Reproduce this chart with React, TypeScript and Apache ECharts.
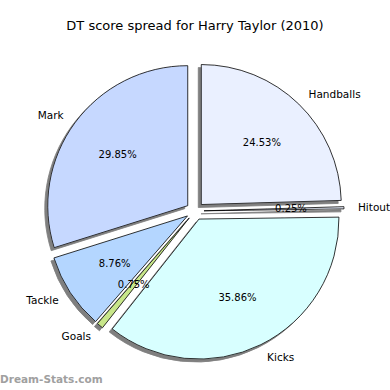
import React, { useEffect, useRef } from "react";
import * as echarts from "echarts";

const titleText = "DT score spread for Harry Taylor (2010)";
const categories = ["Handballs", "Hitout", "Kicks", "Goals", "Tackle", "Mark"];
const percents = [24.53, 0.25, 35.86, 0.75, 8.76, 29.85];
const colors = ["#eaf0ff", "#ecf2ff", "#d8ffff", "#c8e68a", "#b4d6ff", "#c6d8ff"];
const watermark = "Dream-Stats.com";

const FONT = "DejaVu Sans";

export default function App() {
  const ref = useRef<HTMLDivElement>(null);
  useEffect(() => {
    if (!ref.current) return;
    const chart = echarts.init(ref.current, null, { renderer: "svg" });
    const center = [195, 211];
    const R = 140;
    const offset = 9;
    const mainData = categories.map((name, i) => ({
      name,
      value: percents[i],
      selected: true,
      itemStyle: { color: colors[i] },
    }));
    const pctData = categories.map((name, i) => ({
      name,
      value: percents[i],
      selected: true,
    }));
    chart.setOption({
      animation: false,
      backgroundColor: "#ffffff",
      title: {
        text: titleText,
        left: "center",
        top: 14,
        textStyle: { fontFamily: FONT, fontSize: 13, fontWeight: "normal", color: "#000" },
      },
      graphic: [
        {
          type: "text",
          left: 0,
          top: 373,
          style: {
            text: watermark,
            fontFamily: FONT,
            fontSize: 10.5,
            fontWeight: "bold",
            fill: "#a0a0a0",
          },
        },
      ],
      series: [
        {
          type: "pie",
          center,
          radius: [0, R],
          startAngle: 90,
          clockwise: true,
          selectedMode: "multiple",
          selectedOffset: offset,
          avoidLabelOverlap: false,
          silent: true,
          itemStyle: {
            borderColor: "#000",
            borderWidth: 0.8,
            shadowColor: "#7f7f7f",
            shadowBlur: 0,
            shadowOffsetX: -3,
            shadowOffsetY: 3,
          },
          select: { itemStyle: { borderColor: "#000", borderWidth: 0.8 } },
          emphasis: { disabled: true },
          label: {
            show: true,
            position: "outside",
            fontFamily: FONT,
            fontSize: 10.5,
            color: "#000",
            distanceToLabelLine: 0,
            formatter: "{b}",
          },
          labelLine: { show: false, length: 14, length2: 0 },
          data: mainData,
        },
        {
          type: "pie",
          center,
          radius: [R * 0.2, R],
          startAngle: 90,
          clockwise: true,
          selectedMode: "multiple",
          selectedOffset: offset,
          avoidLabelOverlap: false,
          silent: true,
          z: 5,
          itemStyle: { color: "rgba(0,0,0,0)", borderWidth: 0 },
          select: { itemStyle: { color: "rgba(0,0,0,0)", borderWidth: 0 } },
          emphasis: { disabled: true },
          label: {
            show: true,
            position: "inside",
            fontFamily: FONT,
            fontSize: 10,
            color: "#000",
            formatter: (p: any) => p.value.toFixed(2) + "%",
          },
          labelLine: { show: false },
          data: pctData,
        },
      ],
    });
    return () => chart.dispose();
  }, []);
  return (
    <div
      ref={ref}
      style={{ position: "absolute", left: 0, top: 0, width: 390, height: 390 }}
    />
  );
}
